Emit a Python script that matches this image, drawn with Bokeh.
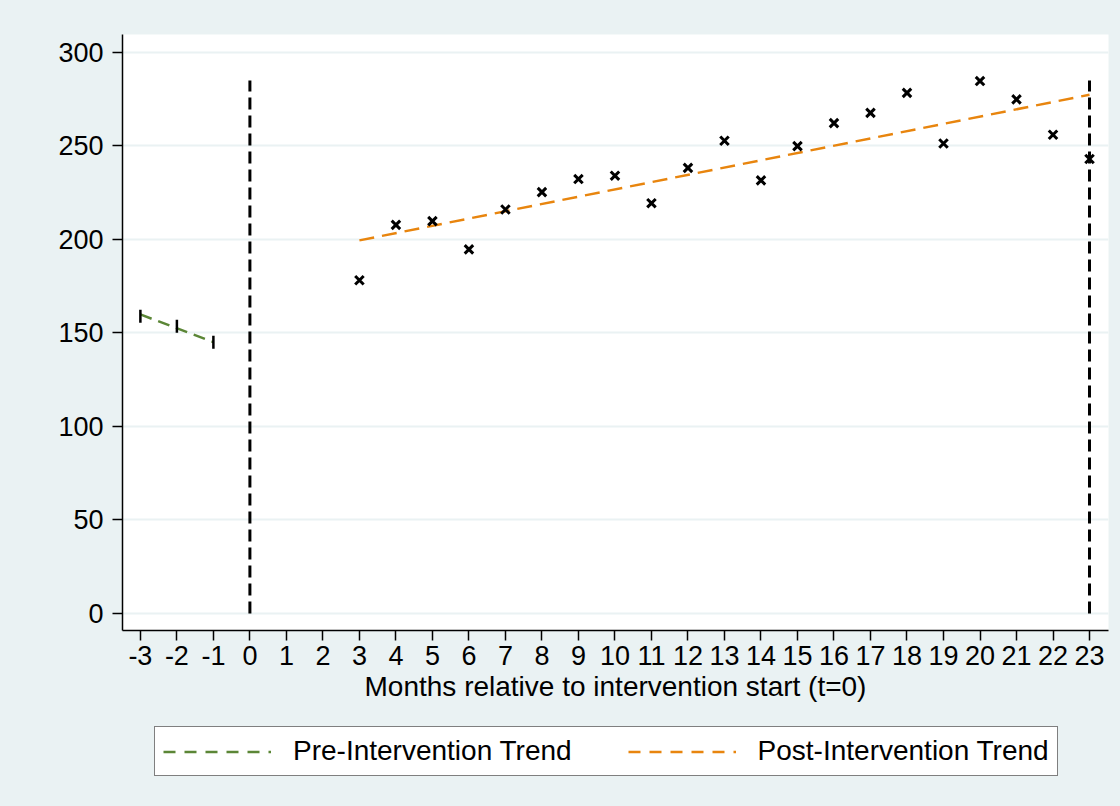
import numpy as np
from bokeh.plotting import figure
from bokeh.layouts import column
from bokeh.models import FixedTicker, Legend, LegendItem, Range1d
from bokeh.embed import file_html
from bokeh.resources import INLINE

# ---- data ----
pre_months = [-3, -2, -1]
pre_values = [159.0, 153.6, 145.1]
pre_trend_months = [-3, -1]
pre_trend_values = [159.9, 145.1]

post_months = [3, 4, 5, 6, 7, 8, 9, 10, 11, 12, 13, 14, 15, 16, 17, 18, 19, 20, 21, 22, 23]
post_values = [178.2, 207.8, 209.8, 194.7, 216.0, 225.3, 232.3, 234.1, 219.4, 238.3, 252.8,
               231.6, 249.9, 262.2, 267.7, 278.4, 251.3, 284.7, 274.9, 256.0, 243.0]
post_trend_months = [3, 23]
post_trend_values = [199.5, 277.4]

vline_months = [0, 23]
vline_bottom = [0, 0]
vline_top = [285, 285]

x_ticks = list(range(-3, 24))
x_tick_labels = [str(t) for t in x_ticks]
y_ticks = [0, 50, 100, 150, 200, 250, 300]

legend_labels = ["Pre-Intervention Trend", "Post-Intervention Trend"]

FONT = "Liberation Sans"
BG = "#EAF2F3"
GREEN = "#5b8636"
ORANGE = "#e8850e"

p = figure(width=1112, height=716, output_backend="svg", toolbar_location=None,
           x_range=Range1d(-3.49, 23.52), y_range=Range1d(-9.1, 309.6),
           min_border_left=122, min_border_top=34, min_border_right=4, min_border_bottom=86)
p.border_fill_color = BG
p.background_fill_color = "white"
p.outline_line_color = None

# grid
p.xgrid.grid_line_color = None
p.ygrid.grid_line_color = BG
p.ygrid.grid_line_width = 2

# axes
for ax in (p.xaxis[0], p.yaxis[0]):
    ax.axis_line_color = "black"
    ax.axis_line_width = 1.5
    ax.major_tick_line_color = "black"
    ax.major_tick_line_width = 1.5
    ax.major_tick_in = 0
    ax.major_tick_out = 10
    ax.minor_tick_line_color = None
    ax.major_label_text_font = FONT
    ax.major_label_text_font_size = "27px"
    ax.major_label_text_color = "black"
    ax.axis_label_text_font = FONT
    ax.axis_label_text_font_style = "normal"
    ax.axis_label_text_font_size = "28px"
    ax.axis_label_text_color = "black"

p.xaxis.ticker = FixedTicker(ticks=x_ticks)
p.xaxis.major_label_overrides = dict(zip(x_ticks, x_tick_labels))
p.yaxis.ticker = FixedTicker(ticks=y_ticks)
p.xaxis.major_label_standoff = 5
p.yaxis.major_label_standoff = 9
p.xaxis.axis_label = "Months relative to intervention start (t=0)"
p.xaxis.axis_label_standoff = 3

# vertical dashed reference lines
p.segment(x0=vline_months, y0=vline_bottom, x1=vline_months, y1=vline_top,
          line_color="black", line_width=3, line_dash="12 6")

# pre-intervention
p.line(pre_trend_months, pre_trend_values, line_color=GREEN, line_width=2.5, line_dash="12 7")
p.scatter(pre_months, pre_values, marker="dash", angle=np.pi / 2, size=13,
          line_color="black", line_width=2.5)

# post-intervention
p.line(post_trend_months, post_trend_values, line_color=ORANGE, line_width=2.5, line_dash="15 8")
p.scatter(post_months, post_values, marker="x", size=12, line_color="black", line_width=3)

# ---- legend strip below the plot (same trend lines as legend keys, drawn out of view) ----
q = figure(width=1112, height=90, output_backend="svg", toolbar_location=None,
           x_range=Range1d(0, 1), y_range=Range1d(0, 1),
           x_axis_location=None, y_axis_location=None,
           min_border_left=122, min_border_right=4, min_border_top=0, min_border_bottom=0)
q.border_fill_color = BG
q.background_fill_color = BG
q.outline_line_color = None
q.grid.visible = False
leg_pre = q.line(x=[-5, -4], y=[-5, -4], line_color=GREEN, line_width=2.5, line_dash="12 9")
leg_post = q.line(x=[-5, -4], y=[-5, -4], line_color=ORANGE, line_width=2.5, line_dash="12 9")

legend = Legend(items=[LegendItem(label=legend_labels[0], renderers=[leg_pre]),
                       LegendItem(label=legend_labels[1], renderers=[leg_post])],
                orientation="horizontal", location=(32, 30))
legend.label_text_font = FONT
legend.label_text_font_size = "28px"
legend.label_text_color = "black"
legend.glyph_width = 108
legend.glyph_height = 31
legend.label_height = 31
legend.label_standoff = 22
legend.spacing = 56
legend.padding = 8
legend.margin = 0
legend.border_line_color = "black"
legend.border_line_width = 1.5
legend.background_fill_color = "white"
legend.background_fill_alpha = 1.0
q.add_layout(legend, "center")

layout = column(p, q, spacing=0)
html = file_html(layout, INLINE)
html = html.replace("<head>", "<head><style>body{background-color:#EAF2F3;}</style>", 1)
open("out.html", "w").write(html)
